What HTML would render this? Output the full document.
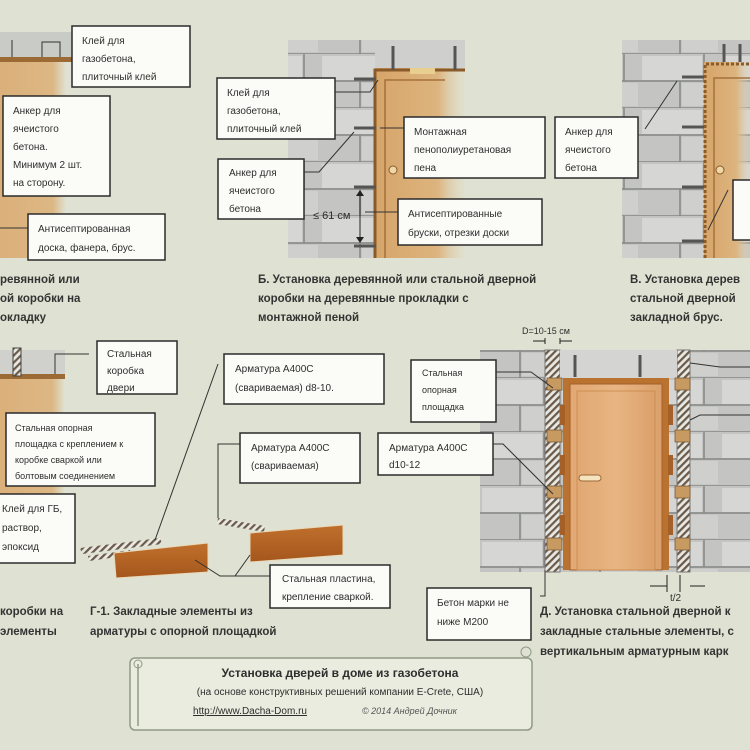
<!DOCTYPE html>
<html><head><meta charset="utf-8"><style>
html,body{margin:0;padding:0;background:#dfe2d2}
svg{display:block}
text{font-family:"Liberation Sans","DejaVu Sans",sans-serif;fill:#2e2e2e}
.b{fill:#fbfbf8;stroke:#2b2b2b;stroke-width:1.5}
.t{font-size:10px}
.c{font-size:11.5px;fill:#333;font-weight:bold}
.l{stroke:#333;stroke-width:1;fill:none}
</style></head><body>
<svg width="750" height="750" viewBox="0 0 750 750" xmlns="http://www.w3.org/2000/svg">
<defs>
<pattern id="blk" width="80" height="54" patternUnits="userSpaceOnUse">
<rect width="80" height="54" fill="#c4c5c2"/>
<rect x="2" y="2" width="60" height="24" fill="#d6d7d4"/>
<rect x="42" y="29" width="36" height="23" fill="#cfd0cd"/>
<path d="M0 27H80M0 54H80M64 0V27M40 27V54" stroke="#858784" stroke-width="1.5"/>
</pattern>
<linearGradient id="wood" x1="0" x2="1">
<stop offset="0" stop-color="#d6a56a"/><stop offset="0.7" stop-color="#ddb47e"/><stop offset="1" stop-color="#dfd8bf" stop-opacity="0.2"/>
</linearGradient>
<linearGradient id="woodA" x1="0" x2="1">
<stop offset="0" stop-color="#dbb07a"/><stop offset="0.8" stop-color="#dcb784"/><stop offset="1" stop-color="#dfe2d2"/>
</linearGradient>
<pattern id="hat" width="5" height="5" patternUnits="userSpaceOnUse" patternTransform="rotate(45)">
<rect width="5" height="5" fill="#e8e8e4"/><rect width="2.2" height="5" fill="#6b5a48"/>
</pattern>
<linearGradient id="plate" x1="0" x2="0" y1="0" y2="1">
<stop offset="0" stop-color="#c0702c"/><stop offset="1" stop-color="#a5561c"/>
</linearGradient>
<linearGradient id="door" x1="0" x2="1">
<stop offset="0" stop-color="#e1a873"/><stop offset="0.5" stop-color="#e8b582"/><stop offset="1" stop-color="#dba06b"/>
</linearGradient>
</defs>
<rect width="750" height="750" fill="#dfe2d2"/>

<!-- Panel A -->
<rect x="0" y="32" width="72" height="26" fill="#c9cbc6"/>
<rect x="0" y="57" width="72" height="5" fill="#9c6a35"/>
<rect x="0" y="62" width="66" height="196" fill="url(#woodA)"/>
<path d="M12 57V40M42 57V42h18v15" class="l" stroke-width="2"/>
<rect x="72" y="26" width="118" height="61" class="b"/>
<text class="t" x="82" y="44">Клей для</text><text class="t" x="82" y="62">газобетона,</text><text class="t" x="82" y="80">плиточный клей</text>
<rect x="3" y="96" width="107" height="100" class="b"/>
<text class="t" x="13" y="114">Анкер для</text><text class="t" x="13" y="132">ячеистого</text><text class="t" x="13" y="150">бетона.</text><text class="t" x="13" y="168">Минимум 2 шт.</text><text class="t" x="13" y="186">на сторону.</text>
<line x1="0" y1="228" x2="28" y2="228" class="l"/>
<rect x="28" y="214" width="137" height="46" class="b"/>
<text class="t" x="38" y="232">Антисептированная</text><text class="t" x="38" y="251">доска, фанера, брус.</text>
<text class="c" x="0" y="283">ревянной или</text><text class="c" x="0" y="302">ой коробки на</text><text class="c" x="0" y="321">окладку</text>

<!-- Panel Б -->
<rect x="288" y="40" width="90" height="218" fill="url(#blk)"/>
<rect x="375" y="40" width="90" height="30" fill="#cfd0cd"/>
<rect x="375" y="68" width="90" height="190" fill="url(#wood)"/>
<path d="M375 258V70h90" stroke="#8a5a28" stroke-width="3" fill="none"/>
<path d="M385 258V80h60" stroke="#a6713c" stroke-width="1.5" fill="none"/>
<rect x="410" y="68" width="25" height="6" fill="#e8cf90"/>
<circle cx="393" cy="170" r="4" fill="#f0d7a8" stroke="#8a5a28"/>
<path d="M393 70V46M455 70V46" stroke="#555" stroke-width="3"/>
<path d="M354 79h22M354 128h22M354 187h22M354 246h22" stroke="#555" stroke-width="3"/>
<line x1="360" y1="192" x2="360" y2="241" stroke="#222"/><path d="M356 196l4-6 4 6M356 237l4 6 4-6" fill="#222"/>
<rect x="217" y="78" width="118" height="61" class="b"/>
<text class="t" x="227" y="96">Клей для</text><text class="t" x="227" y="114">газобетона,</text><text class="t" x="227" y="132">плиточный клей</text>
<path d="M335 92h35l8-12" class="l"/>
<rect x="218" y="159" width="86" height="60" class="b"/>
<text class="t" x="229" y="176">Анкер для</text><text class="t" x="229" y="194">ячеистого</text><text class="t" x="229" y="212">бетона</text>
<path d="M304 172h15l35-40" class="l"/>
<text x="313" y="219" style="font-size:11px">≤ 61 см</text>
<rect x="404" y="117" width="141" height="61" class="b"/>
<text class="t" x="414" y="135">Монтажная</text><text class="t" x="414" y="153">пенополиуретановая</text><text class="t" x="414" y="171">пена</text>
<line x1="380" y1="128" x2="404" y2="128" class="l"/>
<rect x="398" y="199" width="144" height="46" class="b"/>
<text class="t" x="408" y="217">Антисептированные</text><text class="t" x="408" y="236">бруски, отрезки доски</text>
<path d="M365 212h33" class="l"/>
<text class="c" x="258" y="283">Б. Установка деревянной или стальной дверной</text>
<text class="c" x="258" y="302">коробки на деревянные прокладки с</text>
<text class="c" x="258" y="321">монтажной пеной</text>

<!-- Panel В -->
<rect x="622" y="40" width="128" height="218" fill="url(#blk)"/>
<rect x="704" y="62" width="46" height="196" fill="url(#wood)"/>
<path d="M705 258V64h45" stroke="#8a5a28" stroke-width="3" fill="none" stroke-dasharray="3 2"/>
<path d="M714 258V78h36" stroke="#a6713c" stroke-width="1.5" fill="none"/>
<circle cx="720" cy="170" r="4" fill="#f0d7a8" stroke="#8a5a28"/>
<path d="M682 77h22M682 127h22M682 187h22M682 241h22M724 62V44M740 62V44" stroke="#555" stroke-width="3"/>
<rect x="555" y="117" width="83" height="61" class="b"/>
<text class="t" x="565" y="135">Анкер для</text><text class="t" x="565" y="153">ячеистого</text><text class="t" x="565" y="171">бетона</text>
<path d="M645 129l32-48" class="l"/>
<rect x="733" y="180" width="20" height="60" class="b"/>
<path d="M708 230l20-40" class="l"/>
<text class="c" x="630" y="283">В. Установка дерев</text><text class="c" x="630" y="302">стальной дверной</text><text class="c" x="630" y="321">закладной брус.</text>

<!-- Panel Г -->
<rect x="0" y="350" width="65" height="25" fill="#d0d1cd"/>
<rect x="0" y="374" width="65" height="5" fill="#9c6a35"/>
<rect x="0" y="379" width="65" height="140" fill="url(#woodA)"/>
<rect x="13" y="348" width="8" height="28" fill="url(#hat)" stroke="#444"/>
<path d="M55 374V354h34" class="l" stroke-width="1.5"/>
<rect x="97" y="341" width="80" height="53" class="b"/>
<text class="t" x="107" y="357">Стальная</text><text class="t" x="107" y="374">коробка</text><text class="t" x="107" y="391">двери</text>
<rect x="6" y="413" width="149" height="73" class="b"/>
<text class="t" x="15" y="431" style="font-size:9px">Стальная опорная</text><text class="t" x="15" y="447" style="font-size:9px">площадка с креплением к</text><text class="t" x="15" y="463" style="font-size:9px">коробке сваркой или</text><text class="t" x="15" y="479" style="font-size:9px">болтовым соединением</text>
<rect x="-2" y="494" width="77" height="69" class="b"/>
<text class="t" x="2" y="512">Клей для ГБ,</text><text class="t" x="2" y="531">раствор,</text><text class="t" x="2" y="550">эпоксид</text>
<text class="c" x="0" y="615">коробки на</text><text class="c" x="0" y="635">элементы</text>

<!-- Г-1 -->
<polygon points="80,548 160,538 162,544 82,554" fill="url(#hat)"/>
<polygon points="88,556 130,550 131,555 89,561" fill="url(#hat)"/>
<polygon points="218,518 265,526 264,532 217,524" fill="url(#hat)"/>
<polygon points="114,553 208,543 208,572 116,578" fill="url(#plate)" stroke="#e8d8b8"/>
<polygon points="250,533 343,525 343,555 250,562" fill="url(#plate)" stroke="#e8d8b8"/>
<path d="M155 540L218 364M218 518V444h22" class="l" stroke-width="1.5"/>
<path d="M195 560l25 16h50M250 555l-15 21" class="l" stroke-width="1.5"/>
<rect x="224" y="354" width="160" height="50" class="b"/>
<text class="t" x="235" y="372">Арматура А400С</text><text class="t" x="235" y="391">(свариваемая) d8-10.</text>
<rect x="240" y="433" width="120" height="50" class="b"/>
<text class="t" x="251" y="451">Арматура А400С</text><text class="t" x="251" y="469">(свариваемая)</text>
<rect x="270" y="565" width="120" height="43" class="b"/>
<text class="t" x="282" y="582">Стальная пластина,</text><text class="t" x="282" y="600">крепление сваркой.</text>
<text class="c" x="90" y="615">Г-1. Закладные элементы из</text><text class="c" x="90" y="635">арматуры с опорной площадкой</text>

<!-- Panel Д -->
<rect x="480" y="350" width="270" height="222" fill="url(#blk)"/>
<rect x="545" y="350" width="15" height="222" fill="url(#hat)" stroke="#777"/>
<rect x="677" y="350" width="13" height="222" fill="url(#hat)" stroke="#777"/>
<rect x="560" y="350" width="117" height="28" fill="#d4d5d2"/>
<path d="M575 377V355M640 377V355" stroke="#555" stroke-width="3"/>
<g fill="#c79a62" stroke="#7a5a38" stroke-width="0.8">
<rect x="547" y="378" width="15" height="12"/><rect x="547" y="430" width="15" height="12"/><rect x="547" y="486" width="15" height="12"/><rect x="547" y="538" width="15" height="12"/>
<rect x="675" y="378" width="15" height="12"/><rect x="675" y="430" width="15" height="12"/><rect x="675" y="486" width="15" height="12"/><rect x="675" y="538" width="15" height="12"/>
</g>
<rect x="563" y="378" width="106" height="192" fill="#b9722f"/>
<rect x="570" y="384" width="92" height="186" fill="url(#door)" stroke="#a5602a"/>
<rect x="577" y="391" width="78" height="179" fill="url(#door)" stroke="#c8874a" stroke-width="0.8"/>
<rect x="579" y="475" width="22" height="6" rx="3" fill="#f6e3c0" stroke="#9c6a35"/>
<rect x="560" y="405" width="5" height="20" fill="#a5602a"/><rect x="560" y="455" width="5" height="20" fill="#a5602a"/><rect x="560" y="515" width="5" height="20" fill="#a5602a"/>
<rect x="668" y="405" width="5" height="20" fill="#a5602a"/><rect x="668" y="455" width="5" height="20" fill="#a5602a"/><rect x="668" y="515" width="5" height="20" fill="#a5602a"/>
<text x="522" y="334" style="font-size:9px">D=10-15 см</text>
<path d="M533 341h12M560 341h12" stroke="#222"/><path d="M545 338v6M560 338v6" stroke="#222"/>
<path d="M650 586h17M690 586h15M667 575v17M680 575v17" stroke="#222"/>
<text x="670" y="601" style="font-size:10px">t/2</text>
<rect x="411" y="360" width="85" height="62" class="b"/>
<text class="t" x="422" y="376" style="font-size:9px">Стальная</text><text class="t" x="422" y="393" style="font-size:9px">опорная</text><text class="t" x="422" y="410" style="font-size:9px">площадка</text>
<path d="M496 372h35l22 16" class="l"/>
<rect x="378" y="433" width="115" height="42" class="b"/>
<text class="t" x="389" y="451">Арматура А400С</text><text class="t" x="389" y="468">d10-12</text>
<path d="M493 444h10l50 50" class="l"/>
<rect x="427" y="588" width="104" height="52" class="b"/>
<text class="t" x="437" y="606">Бетон марки не</text><text class="t" x="437" y="625">ниже М200</text>
<path d="M540 596h5V570" class="l"/>
<path d="M690 363l30 4h30M690 420l10-5h50" class="l"/>
<text class="c" x="540" y="615">Д. Установка стальной дверной к</text>
<text class="c" x="540" y="635">закладные стальные элементы, с</text>
<text class="c" x="540" y="655">вертикальным арматурным карк</text>

<!-- Title scroll -->
<rect x="130" y="658" width="402" height="72" rx="5" fill="#e9ecdf" stroke="#8f9a85" stroke-width="1.5"/>
<path d="M138 664v62" stroke="#8f9a85" stroke-width="1.5" fill="none"/>
<circle cx="138" cy="664" r="4" fill="none" stroke="#8f9a85"/>
<circle cx="526" cy="652" r="5" fill="none" stroke="#8f9a85"/>
<text x="340" y="677" text-anchor="middle" style="font-size:12px;font-weight:bold">Установка дверей в доме из газобетона</text>
<text x="340" y="695" text-anchor="middle" style="font-size:10px">(на основе конструктивных решений компании E-Crete, США)</text>
<text x="250" y="714" text-anchor="middle" style="font-size:10px;text-decoration:underline">http://www.Dacha-Dom.ru</text>
<text x="362" y="714" style="font-size:9px;font-style:italic;fill:#555">© 2014 Андрей Дочник</text>
</svg>
</body></html>
